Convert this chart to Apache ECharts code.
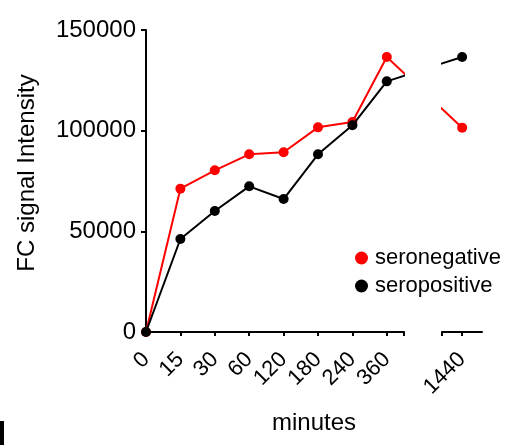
<!DOCTYPE html>
<html><head><meta charset="utf-8">
<script src="https://cdn.jsdelivr.net/npm/echarts@6/dist/echarts.min.js"></script>
<style>html,body{margin:0;padding:0;background:#fff}#c{width:514px;height:445px}</style>
</head><body><div id="c"></div>
<script>
const categories = ['0','15','30','60','120','180','240','360','1440'];
const seronegative = [0, 71200, 80300, 88250, 89250, 101650, 104300, 136600, 101500];
const seropositive = [0, 46200, 60100, 72350, 66050, 88250, 102650, 124500, 136600];
const yTicks = [0, 50000, 100000, 150000];

// x position of each category: evenly spaced before the break, last one after the break
const BREAK_SHIFT = 2.19;
const xPos = categories.map((c, i) => i < categories.length - 1 ? i : i + BREAK_SHIFT - 1);
const seg1Max = 7.5, seg2Min = 8.605, seg2Max = 9.767;

const toPairs = arr => arr.map((v, i) => [xPos[i], v]);
const FONT = 'Liberation Sans, Arial, sans-serif';

const chart = echarts.init(document.getElementById('c'), null, {renderer: 'canvas'});
const axisLine = {show: true, lineStyle: {color: '#000', width: 2}};
const mkSeries = (name, data, color, idx) => ({
  name, type: 'line', xAxisIndex: idx, yAxisIndex: idx, data: toPairs(data),
  clip: true, symbol: 'circle', symbolSize: 10, color,
  lineStyle: {color, width: 2}, itemStyle: {color}, emphasis: {disabled: true}, z: name === 'seropositive' ? 3 : 2
});
const lbl = v => { const i = xPos.indexOf(v); return i >= 0 ? categories[i] : ''; };

chart.setOption({
  animation: false,
  grid: [
    {left: 146, width: 258, top: 30, bottom: 113, containLabel: false},
    {left: 442, width: 40, top: 30, bottom: 113, containLabel: false}
  ],
  xAxis: [
    {type: 'value', gridIndex: 0, min: 0, max: seg1Max, axisLine,
     splitLine: {show: false},
     axisTick: {show: true, inside: false, length: 4, lineStyle: {color: '#000', width: 2}, customValues: xPos.slice(0, 8).concat([seg1Max])},
     axisLabel: {show: true, rotate: 45, margin: 24, color: '#000', fontSize: 22, fontFamily: FONT, customValues: xPos.slice(0, 8), formatter: lbl}},
    {type: 'value', gridIndex: 1, min: seg2Min, max: seg2Max, axisLine,
     splitLine: {show: false},
     axisTick: {show: true, inside: false, length: 4, lineStyle: {color: '#000', width: 2}, customValues: [seg2Min, xPos[8]]},
     axisLabel: {show: true, rotate: 45, margin: 24, color: '#000', fontSize: 22, fontFamily: FONT, customValues: [xPos[8]], formatter: lbl}}
  ],
  yAxis: [
    {type: 'value', gridIndex: 0, min: yTicks[0], max: yTicks[yTicks.length - 1], interval: yTicks[1] - yTicks[0],
     axisLine, splitLine: {show: false},
     axisTick: {show: true, length: 5, lineStyle: {color: '#000', width: 2}},
     axisLabel: {color: '#000', fontSize: 24, fontFamily: FONT, margin: 10, formatter: v => String(v)}},
    {type: 'value', gridIndex: 1, min: yTicks[0], max: yTicks[yTicks.length - 1], show: false}
  ],
  legend: {
    left: 350, top: 242, orient: 'vertical', itemGap: 6, itemWidth: 13, itemHeight: 13,
    data: [{name: 'seronegative', icon: 'circle'}, {name: 'seropositive', icon: 'circle'}],
    textStyle: {color: '#000', fontSize: 22, fontFamily: FONT, padding: [0, 0, 0, 2]},
    selectedMode: false
  },
  series: [
    mkSeries('seronegative', seronegative, '#ff0000', 0),
    mkSeries('seropositive', seropositive, '#000000', 0),
    mkSeries('seronegative', seronegative, '#ff0000', 1),
    mkSeries('seropositive', seropositive, '#000000', 1)
  ],
  graphic: [
    {type: 'text', x: 27, y: 173, rotation: Math.PI / 2,
     style: {text: 'FC signal Intensity', font: '24px ' + FONT, fill: '#000', align: 'center', verticalAlign: 'middle'}},
    {type: 'text', x: 314, y: 423,
     style: {text: 'minutes', font: '24px ' + FONT, fill: '#000', align: 'center', verticalAlign: 'middle'}},
    {type: 'rect', shape: {x: 0, y: 421, width: 4, height: 24}, style: {fill: '#000'}}
  ]
});
</script></body></html>
